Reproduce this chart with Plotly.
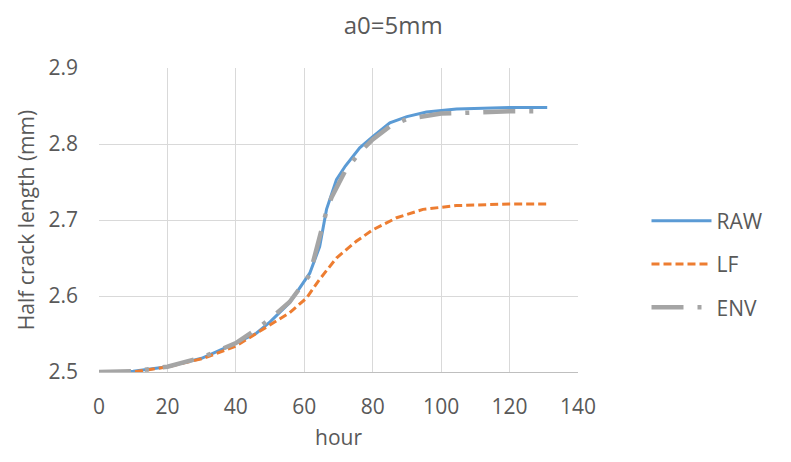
import plotly.graph_objects as go

hours_raw = [0, 10, 20, 30, 40, 46, 50, 55.7, 61.6, 64.5, 66.5, 69.4, 72, 76.2, 80.1, 85, 90, 95.7, 104.5, 120, 131]
raw = [2.5, 2.501, 2.507, 2.518, 2.538, 2.551, 2.566, 2.591, 2.630, 2.665, 2.714, 2.753, 2.771, 2.795, 2.810, 2.828, 2.836, 2.842, 2.846, 2.848, 2.848]

hours_lf = [0, 10, 20, 30.5, 40, 48, 55.7, 60.6, 64.5, 69.4, 75.2, 80, 87, 94.7, 104.5, 120, 131]
lf = [2.5, 2.5, 2.5066, 2.518, 2.534, 2.556, 2.578, 2.597, 2.622, 2.650, 2.672, 2.687, 2.703, 2.714, 2.719, 2.721, 2.721]

hours_env = [0, 10, 20, 30, 40, 46, 50, 55.7, 61.6, 64, 66.5, 68, 72, 76, 80, 85, 90, 100, 110, 120, 131]
env = [2.5, 2.501, 2.507, 2.519, 2.538, 2.556, 2.570, 2.592, 2.628, 2.667, 2.712, 2.730, 2.765, 2.788, 2.806, 2.823, 2.833, 2.840, 2.842, 2.843, 2.843]

TXT = "#595959"
FS = 21
fig = go.Figure()
fig.add_trace(go.Scatter(x=hours_raw, y=raw, name="RAW", mode="lines", legendgroup="a",
                         line=dict(color="#5B9BD5", width=3)))
fig.add_trace(go.Scatter(x=hours_lf, y=lf, name="LF", mode="lines", legendgroup="b",
                         line=dict(color="#ED7D31", width=3, dash="8px,4px")))
fig.add_trace(go.Scatter(x=hours_env, y=env, name="ENV", mode="lines", legendgroup="c",
                         line=dict(color="#A5A5A5", width=4.5, dash="32px,14px,4px,14px")))

fig.update_layout(
    width=791, height=462,
    margin=dict(l=91, r=221, t=60, b=98),
    paper_bgcolor="white", plot_bgcolor="white",
    font=dict(family="Open Sans", color=TXT, size=FS),
    title=dict(text="a0=5mm", x=0.487, xref="container", xanchor="center", y=0.962, yanchor="middle",
               font=dict(size=24, color=TXT)),
    xaxis=dict(range=[0, 140], dtick=20, showgrid=True, gridcolor="#D9D9D9", gridwidth=1,
               zeroline=False, showline=True, linecolor="#BFBFBF", linewidth=1,
               ticks="", tickfont=dict(size=FS, color=TXT), automargin=False,
               ticklabelstandoff=16,
               title=dict(text="hour", font=dict(size=FS, color=TXT), standoff=11)),
    yaxis=dict(range=[2.5, 2.9], dtick=0.1, tickformat=".1f", showgrid=True, gridcolor="#D9D9D9",
               gridwidth=1, zeroline=False, showline=False, ticks="", automargin=False,
               tickfont=dict(size=FS, color=TXT), ticklabelstandoff=20,
               title=dict(text="Half crack length (mm)", font=dict(size=FS, color=TXT), standoff=8)),
    legend=dict(x=1.143, y=0.355, xanchor="left", yanchor="middle", tracegroupgap=13,
                font=dict(size=FS, color=TXT), bgcolor="rgba(0,0,0,0)", itemwidth=60),
    showlegend=True,
)

fig.write_html("out.html")
